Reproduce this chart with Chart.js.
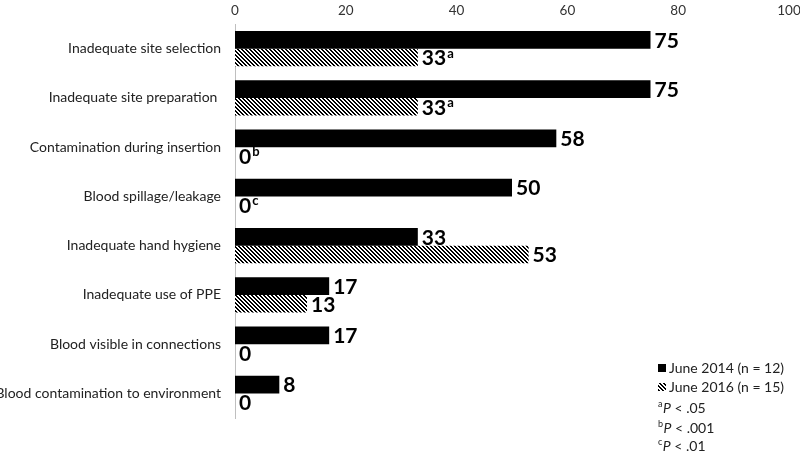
<!DOCTYPE html>
<html>
<head>
<meta charset="utf-8">
<script src="https://cdn.jsdelivr.net/npm/chart.js@4.4.1/dist/chart.umd.min.js"></script>
<style>
  html, body { margin: 0; padding: 0; background: #fff; }
  #wrap { width: 800px; height: 453px; position: relative; }
</style>
</head>
<body>
<div id="wrap"><canvas id="c" width="800" height="453"></canvas></div>
<script>
const categories = [
  'Inadequate site selection',
  'Inadequate site preparation ',
  'Contamination during insertion',
  'Blood spillage/leakage',
  'Inadequate hand hygiene',
  'Inadequate use of PPE',
  'Blood visible in connections',
  'Blood contamination to environment'
];
const values2014 = [75, 75, 58, 50, 33, 17, 17, 8];
const values2016 = [33, 33, 0, 0, 53, 13, 0, 0];
const sup2014 = ['', '', '', '', '', '', '', ''];
const sup2016 = ['a', 'a', 'b', 'c', '', '', '', ''];
const xTicks = [0, 20, 40, 60, 80, 100];
const seriesNames = ['June 2014 (n = 12)', 'June 2016 (n = 15)'];
const footnotes = [['a', '.05'], ['b', '.001'], ['c', '.01']];

const FONT = 'Lato, Carlito, "Liberation Sans", sans-serif';

function makeHatch() {
  const t = document.createElement('canvas');
  t.width = 4; t.height = 4;
  const g = t.getContext('2d');
  g.fillStyle = '#fff';
  g.fillRect(0, 0, 4, 4);
  g.fillStyle = '#000';
  for (let y = 0; y < 4; y++) {
    for (let x = 0; x < 4; x++) {
      const d = ((x - y) % 4 + 4) % 4;
      if (d === 0 || d === 1) g.fillRect(x, y, 1, 1);
    }
  }
  return document.getElementById('c').getContext('2d').createPattern(t, 'repeat');
}
const hatch = makeHatch();

const labelPlugin = {
  id: 'barLabels',
  afterDatasetsDraw(chart) {
    const ctx = chart.ctx;
    const sups = [sup2014, sup2016];
    ctx.save();
    chart.data.datasets.forEach((ds, di) => {
      const meta = chart.getDatasetMeta(di);
      meta.data.forEach((bar, i) => {
        const txt = String(ds.data[i]);
        ctx.font = 'bold 21px ' + FONT;
        ctx.fillStyle = '#000';
        ctx.textAlign = 'left';
        ctx.textBaseline = 'middle';
        const x = bar.x + 4;
        const y = bar.y + 1;
        ctx.fillText(txt, x, y);
        const w = ctx.measureText(txt).width;
        const s = sups[di][i];
        if (s) {
          ctx.font = 'bold 13px ' + FONT;
          ctx.fillText(s, x + w + 1, y - 5);
        }
      });
    });
    ctx.restore();
  }
};

const legendPlugin = {
  id: 'customLegend',
  afterDraw(chart) {
    const ctx = chart.ctx;
    ctx.save();
    const lx = 658;
    ctx.fillStyle = '#000';
    ctx.fillRect(lx, 364, 8, 8);
    ctx.fillStyle = hatch;
    ctx.fillRect(lx, 383, 8, 8);
    ctx.fillStyle = '#222';
    ctx.font = '14px ' + FONT;
    ctx.textAlign = 'left';
    ctx.textBaseline = 'middle';
    ctx.fillText(seriesNames[0], lx + 11, 368);
    ctx.fillText(seriesNames[1], lx + 11, 387);
    const ys = [408, 428, 446];
    footnotes.forEach((f, i) => {
      const y = ys[i];
      let x = lx;
      ctx.font = '9px ' + FONT;
      ctx.fillText(f[0], x, y - 4);
      x += ctx.measureText(f[0]).width + 0.5;
      ctx.font = 'italic 14px ' + FONT;
      ctx.fillText('P', x, y);
      x += ctx.measureText('P').width;
      ctx.font = '14px ' + FONT;
      ctx.fillText(' < ' + f[1], x, y);
    });
    ctx.restore();
  }
};

new Chart(document.getElementById('c'), {
  type: 'bar',
  data: {
    labels: categories,
    datasets: [
      { label: seriesNames[0], data: values2014, backgroundColor: '#000', borderWidth: 0,
        categoryPercentage: 0.72, barPercentage: 1.0 },
      { label: seriesNames[1], data: values2016, backgroundColor: hatch, borderWidth: 0,
        categoryPercentage: 0.72, barPercentage: 1.0 }
    ]
  },
  options: {
    indexAxis: 'y',
    responsive: false,
    animation: false,
    layout: { padding: { top: 0, right: 0, bottom: 35, left: 0 } },
    plugins: {
      legend: { display: false },
      tooltip: { enabled: false }
    },
    scales: {
      x: {
        position: 'top',
        min: 0, max: 100,
        afterBuildTicks(scale) { scale.ticks = xTicks.map(v => ({ value: v })); },
        afterFit(scale) { scale.height = 24; scale.paddingRight = 11; },
        grid: { display: false, drawTicks: false },
        border: { display: false },
        ticks: { color: '#333', font: { family: FONT, size: 13.5 }, padding: 5, maxRotation: 0 }
      },
      y: {
        afterFit(scale) { scale.width = 235; },
        grid: { display: false, drawTicks: false },
        border: { display: true, color: '#bfbfbf', width: 1 },
        ticks: { color: '#222', font: { family: FONT, size: 14 }, padding: 14, autoSkip: false }
      }
    }
  },
  plugins: [labelPlugin, legendPlugin]
});
</script>
</body>
</html>
